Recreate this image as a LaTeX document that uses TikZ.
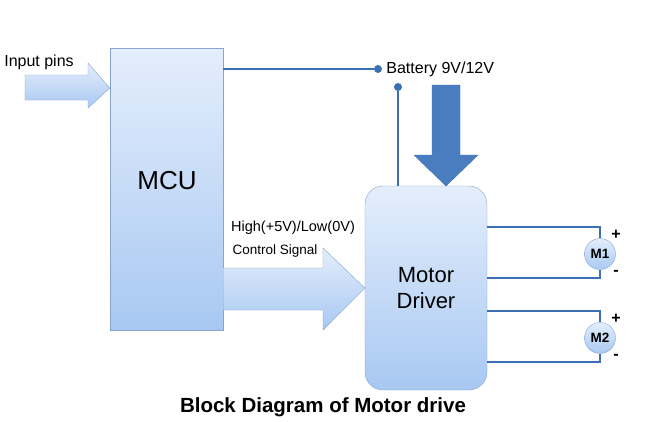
\documentclass[tikz,border=0pt]{standalone}
\usepackage{fontspec}
\setmainfont{Liberation Sans}
\usetikzlibrary{positioning}
\definecolor{wirecol}{HTML}{3C70B4}
\definecolor{boxtop}{HTML}{E4EEFC}
\definecolor{boxbot}{HTML}{A8C8F2}
\definecolor{boxline}{HTML}{86A6CF}
\definecolor{bigarrow}{HTML}{4A7DC0}
\begin{document}
\begin{tikzpicture}[x=1pt,y=-1pt]
\tikzset{
  block/.style={draw=boxline,top color=boxtop,bottom color=boxbot,inner sep=0pt},
  wire/.style={draw=wirecol,line width=1.6pt},
  dot/.style={circle,fill=wirecol,inner sep=0pt,minimum size=8pt},
  motor/.style={block,circle,minimum size=31pt,font=\bfseries\fontsize{13.5}{15}\selectfont},
  lbl/.style={font=\fontsize{16}{18}\selectfont}
}
\useasboundingbox[fill=white] (0,0) rectangle (648,421);

% blocks
\node[block,minimum width=113pt,minimum height=282pt] (mcu) at (166.5,189) {};
\node[font=\fontsize{26}{28}\selectfont] (mcutext) at (167,181) {MCU};
\node[block,rounded corners=18pt,minimum width=122pt,minimum height=204pt,
      align=center,font=\fontsize{22}{26}\selectfont] (drv) at (426,288) {Motor\\Driver};

% input and control arrows
\path[block] (25,75) -- (88,75) -- (88,63) -- (mcu.west |- 0,88) -- (88,108) -- (88,100) -- (25,100) -- cycle;
\node[lbl] (inlbl) at (39,62) {Input pins};
\path[block] (mcu.east |- 0,268) -- (323,268) -- (323,248) -- (drv.west) -- (323,330) -- (323,310) -- (mcu.east |- 0,310) -- cycle;
\node[font=\fontsize{14.5}{16}\selectfont] (hilo) at (293,228) {High(+5V)/Low(0V)};
\node[font=\fontsize{13.5}{16}\selectfont] (ctrl) at (275,251) {Control Signal};

% battery
\node[dot] (bat1) at (378,69) {};
\node[lbl,right=2pt of bat1,inner sep=2pt] (batlbl) {Battery 9V/12V};
\draw[wire] (mcu.east |- bat1) -- (bat1);
\node[dot] (bat2) at (398,87) {};
\draw[wire] (bat2) -- (bat2 |- drv.north);
\fill[bigarrow,draw=wirecol] (432,85) -- (460,85) -- (460,155) -- (478,155) -- (446,186) -- (414,155) -- (432,155) -- cycle;

% motors
\foreach \m/\y in {1/254,2/338} {
  \node[motor] (m\m) at (600,\y) {M\m};
  \draw[wire] (drv.east |- 0,\y-27) -| (m\m.north);
  \draw[wire] (drv.east |- 0,\y+24) -| (m\m.south);
  \node[font=\bfseries\fontsize{16}{18}\selectfont] (p\m) at (616,\y-19) {+};
  \node[font=\bfseries\fontsize{16}{18}\selectfont] (n\m) at (616,\y+19) {-};
}

\node[font=\bfseries\fontsize{20.5}{24}\selectfont] (title) at (323,407) {Block Diagram of Motor drive};
\end{tikzpicture}
\end{document}
